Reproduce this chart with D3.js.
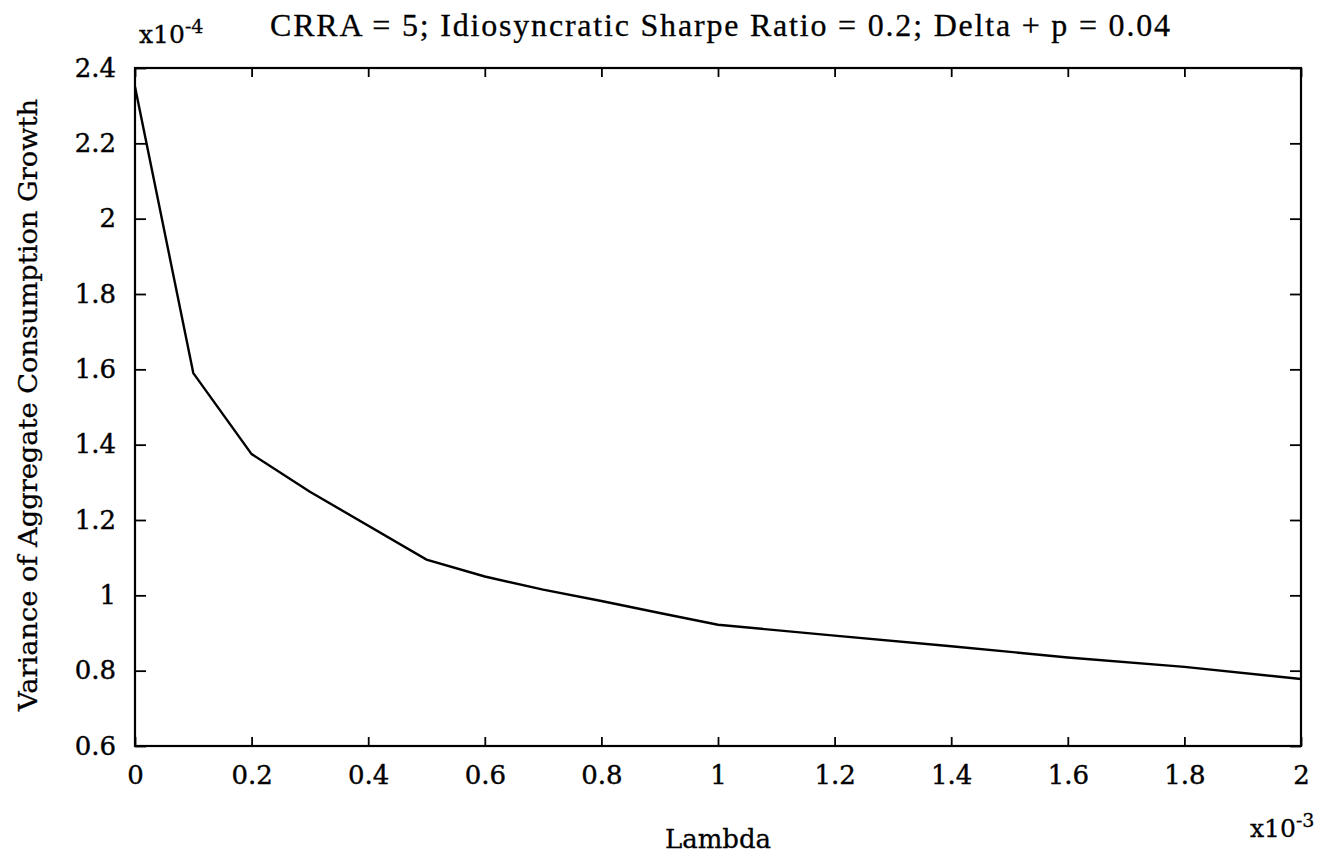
<!DOCTYPE html>
<html>
<head>
<meta charset="utf-8">
<script src="https://cdn.jsdelivr.net/npm/d3@7.9.0/dist/d3.min.js"></script>
<style>
  body { margin: 0; background: #fff; }
  svg { display: block; }
  .tick text { font-family: "DejaVu Serif", serif; font-size: 26px; fill: #000; stroke: #000; stroke-width: 0.4px; }
  .lbl { fill: #000; stroke: #000; stroke-width: 0.3px; }
</style>
</head>
<body>
<svg width="1321" height="861"></svg>
<script>
// lambda values (x10^-3) and variance values (x10^-4)
const lambda = [0, 0.1, 0.2, 0.3, 0.5, 0.6, 0.7, 0.8, 0.9, 1.0, 1.2, 1.4, 1.6, 1.8, 2.0];
const variance = [2.35, 1.59, 1.375, 1.275, 1.095, 1.05, 1.015, 0.985, 0.953, 0.922, 0.893, 0.865, 0.835, 0.81, 0.778];
const xTicks = [0, 0.2, 0.4, 0.6, 0.8, 1, 1.2, 1.4, 1.6, 1.8, 2];
const yTicks = [0.6, 0.8, 1, 1.2, 1.4, 1.6, 1.8, 2, 2.2, 2.4];

const plotLeft = 135, plotRight = 1301, plotTop = 68, plotBottom = 746;
const svg = d3.select('svg');

const x = d3.scaleLinear().domain([0, 2]).range([plotLeft, plotRight]);
const y = d3.scaleLinear().domain([0.6, 2.4]).range([plotBottom, plotTop]);

// tick labels come with the axes, ticks point inward
svg.append('g')
    .attr('transform', `translate(0,${plotBottom})`)
    .call(d3.axisBottom(x).tickValues(xTicks).tickSizeInner(-9).tickSizeOuter(0).tickPadding(20)
        .tickFormat(d3.format('')))
    .call(g => g.select('.domain').remove());

svg.append('g')
    .attr('transform', `translate(${plotLeft},0)`)
    .call(d3.axisLeft(y).tickValues(yTicks).tickSizeInner(-11).tickSizeOuter(0).tickPadding(19)
        .tickFormat(d3.format('')))
    .call(g => g.select('.domain').remove());

// ticks on the top and right edges, no labels
svg.append('g')
    .attr('transform', `translate(0,${plotTop})`)
    .call(d3.axisTop(x).tickValues(xTicks).tickSizeInner(-9).tickSizeOuter(0).tickFormat(''))
    .call(g => g.select('.domain').remove());

svg.append('g')
    .attr('transform', `translate(${plotRight},0)`)
    .call(d3.axisRight(y).tickValues(yTicks).tickSizeInner(-11).tickSizeOuter(0).tickFormat(''))
    .call(g => g.select('.domain').remove());

svg.selectAll('.tick line').attr('stroke', '#000').attr('stroke-width', 1.8);

// frame
svg.append('rect')
    .attr('x', plotLeft).attr('y', plotTop)
    .attr('width', plotRight - plotLeft).attr('height', plotBottom - plotTop)
    .attr('fill', 'none').attr('stroke', '#000').attr('stroke-width', 2.2);

// the curve
const line = d3.line().x((d, i) => x(lambda[i])).y(d => y(d));
svg.append('path')
    .attr('d', line(variance))
    .attr('fill', 'none')
    .attr('stroke', '#000')
    .attr('stroke-width', 2.4);

// title
svg.append('text')
    .attr('class', 'lbl')
    .attr('x', 270).attr('y', 36)
    .attr('font-family', '"Liberation Serif", serif')
    .attr('font-size', 32)
    .attr('textLength', 900)
    .attr('lengthAdjust', 'spacing')
    .text('CRRA = 5; Idiosyncratic Sharpe Ratio = 0.2; Delta + p = 0.04');

// exponent labels
const expo = (xp, yp, pow) => {
    const t = svg.append('text')
        .attr('class', 'lbl')
        .attr('x', xp).attr('y', yp)
        .attr('font-family', '"DejaVu Serif", serif')
        .attr('font-size', 25);
    t.append('tspan').text('x10');
    t.append('tspan').attr('dy', -10).attr('font-size', 19).text(pow);
};
expo(139, 43, '-4');
expo(1250, 837, '-3');

// axis titles
svg.append('text')
    .attr('class', 'lbl')
    .attr('x', x(1)).attr('y', 848)
    .attr('text-anchor', 'middle')
    .attr('font-family', '"DejaVu Serif", serif')
    .attr('font-size', 26)
    .text('Lambda');

svg.append('text')
    .attr('class', 'lbl')
    .attr('transform', `translate(37,405) rotate(-90)`)
    .attr('text-anchor', 'middle')
    .attr('font-family', '"DejaVu Serif", serif')
    .attr('font-size', 26)
    .attr('textLength', 612)
    .attr('lengthAdjust', 'spacingAndGlyphs')
    .text('Variance of Aggregate Consumption Growth');
</script>
</body>
</html>
